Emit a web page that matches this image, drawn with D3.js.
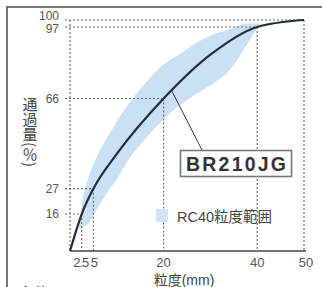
<!DOCTYPE html>
<html>
<head>
<meta charset="utf-8">
<script src="https://cdn.jsdelivr.net/npm/d3@7"></script>
<style>
  body { margin: 0; background: #fff; }
  svg { display: block; font-family: "Liberation Sans", Arial, "Noto Sans CJK JP", sans-serif; }
</style>
</head>
<body>
<svg id="chart" width="322" height="287"></svg>
<script>
// BR210JG grading curve (particle size mm -> passing %)
const curveSizes   = [0, 2.5, 5, 10, 20, 30, 40, 50];
const curvePassing = [0, 16, 27, 42, 66, 85, 97, 100];

// RC40 grading range (light blue band)
const bandSizes = [2, 2.5, 4, 6, 8.5, 10, 13, 15, 19, 24, 27, 31, 34, 38, 40.5];
const bandUpper = [12, 20, 32, 42, 51, 56, 65, 70, 79, 86, 90, 94, 96, 98.5, 98.5];
const bandLower = [9, 10, 12, 19, 27, 31, 41, 46, 55, 64, 68, 73, 78, 90, 98];

// marked points with dotted guides
const markSizes   = [2.5, 5, 20, 40, 50];
const markPassing = [16, 27, 66, 97, 100];

const yTicks  = [100, 97, 66, 27, 16];
const xTicks  = [2.5, 5, 20, 40, 50];
const xLabels = ["2.5", "5", "20", "40", "50"];

const svg = d3.select("#chart");

const x = d3.scaleLinear().domain([0, 50]).range([70, 304]);
const y = d3.scaleLinear().domain([0, 100]).range([251, 20]);

// outer frame (scan border)
svg.append("path")
    .attr("d", "M7,287 L7,7 L322,7")
    .attr("fill", "none").attr("stroke", "#4a4a4a").attr("stroke-width", 1.5);

// band
const band = bandSizes.map((s, i) => ({s: s, lo: bandLower[i], hi: bandUpper[i]}));
svg.append("path")
    .datum(band)
    .attr("fill", "#cae0f4")
    .attr("d", d3.area().curve(d3.curveMonotoneX)
        .x(d => x(d.s)).y0(d => y(d.lo)).y1(d => y(d.hi)));

// dotted guides
const guide = svg.append("g").attr("stroke", "#666").attr("stroke-width", 1.1).attr("stroke-dasharray", "2,2");
markSizes.forEach((s, i) => {
    guide.append("line").attr("x1", 65).attr("x2", x(s)).attr("y1", y(markPassing[i])).attr("y2", y(markPassing[i]));
    guide.append("line").attr("x1", x(s)).attr("x2", x(s)).attr("y1", y(markPassing[i])).attr("y2", y(0));
});
// y axis dotted
guide.append("line").attr("x1", x(0)).attr("x2", x(0)).attr("y1", y(100)).attr("y2", y(0));

// x axis
svg.append("line")
    .attr("x1", x(0)).attr("x2", x(50) + 2).attr("y1", y(0)).attr("y2", y(0))
    .attr("stroke", "#444").attr("stroke-width", 1.5);

// y tick labels (100 and 97 nudged apart like the original)
const yOff = {100: -4, 97: 2};
svg.append("g").selectAll("text").data(yTicks).join("text")
    .attr("x", 59)
    .attr("y", d => y(d) + (yOff[d] || 0))
    .attr("dy", "0.35em")
    .attr("text-anchor", "end")
    .attr("font-size", 12)
    .attr("fill", "#555")
    .text(d => d);

// x tick labels
const xOff = {2.5: -1, 5: 1, 50: 2};
svg.append("g").selectAll("text").data(xTicks).join("text")
    .attr("x", d => x(d) + (xOff[d] || 0))
    .attr("y", 267)
    .attr("text-anchor", "middle")
    .attr("font-size", 13)
    .attr("letter-spacing", (d, i) => i === 0 ? -1 : 0)
    .attr("fill", "#555")
    .text((d, i) => xLabels[i]);

// curve
const pts = curveSizes.map((s, i) => [s, curvePassing[i]]);
svg.append("path")
    .datum(pts)
    .attr("fill", "none")
    .attr("stroke", "#232b38")
    .attr("stroke-width", 2.2)
    .attr("d", d3.line().curve(d3.curveMonotoneX).x(d => x(d[0])).y(d => y(d[1])));

// label box with leader
svg.append("line")
    .attr("x1", x(21.7)).attr("y1", y(69.5)).attr("x2", 202).attr("y2", 150)
    .attr("stroke", "#333").attr("stroke-width", 1);
svg.append("rect")
    .attr("x", 180.5).attr("y", 150.5).attr("width", 111).attr("height", 26)
    .attr("fill", "#fff").attr("stroke", "#777").attr("stroke-width", 1.6);
svg.append("text")
    .attr("x", 186).attr("y", 170.5)
    .attr("font-size", 19.5).attr("font-weight", "bold")
    .attr("fill", "#333")
    .attr("textLength", 100).attr("lengthAdjust", "spacing")
    .text("BR210JG");

// legend
svg.append("rect")
    .attr("x", 156).attr("y", 209).attr("width", 12).attr("height", 13)
    .attr("fill", "#d0e4f6");
svg.append("text")
    .attr("x", 177).attr("y", 222)
    .attr("font-size", 14.5)
    .attr("fill", "#444")
    .text("RC40粒度範囲");

// axis titles
svg.append("text")
    .attr("x", 30).attr("y", 97)
    .attr("style", "writing-mode: vertical-rl")
    .attr("font-size", 15)
    .attr("fill", "#444")
    .attr("font-family", "Noto Sans CJK JP")
    .text("通過量(％)");

svg.append("text")
    .attr("x", 184).attr("y", 285)
    .attr("text-anchor", "middle")
    .attr("font-size", 14)
    .attr("fill", "#444")
    .text("粒度(mm)");

// cut-off note at the bottom
svg.append("text")
    .attr("x", 20).attr("y", 298)
    .attr("font-size", 14).attr("font-weight", "bold")
    .attr("fill", "#333")
    .attr("font-family", "Noto Sans CJK JP")
    .text("条件");
</script>
</body>
</html>
